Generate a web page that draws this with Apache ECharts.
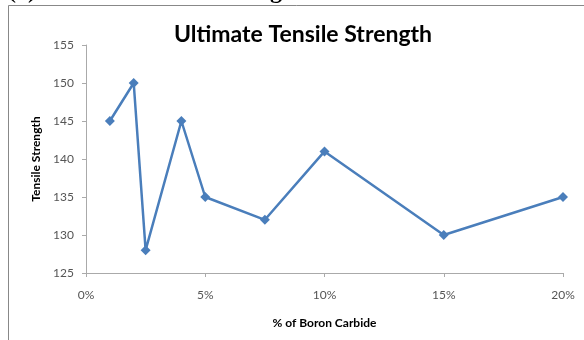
<!DOCTYPE html>
<html><head><meta charset="utf-8">
<script src="https://cdn.jsdelivr.net/npm/echarts@6/dist/echarts.min.js"></script>
<style>html,body{margin:0;padding:0;background:#fff}#c{width:584px;height:340px}</style>
</head><body><div id="c"></div>
<script>
const boronPct = [1, 2, 2.5, 4, 5, 7.5, 10, 15, 20];
const tensile = [145, 150, 128, 145, 135, 132, 141, 130, 135];
const yTicks = [125, 130, 135, 140, 145, 150, 155];
const xTicks = [0, 5, 10, 15, 20];

const chart = echarts.init(document.getElementById('c'));
chart.setOption({
  animation: false,
  backgroundColor: '#fff',
  title: {
    text: 'Ultimate Tensile Strength',
    left: 298, top: 18, textAlign: 'center',
    textStyle: {fontFamily: 'Lato', fontWeight: 'bold', fontSize: 23, color: '#000'}
  },
  graphic: [
    {type: 'text', left: 8, top: -20, style: {text: '(a) Ultimate Tensile Strength', font: 'bold 24px "Liberation Serif"', fill: '#000'}},
    {type: 'line', shape: {x1: 8.5, y1: 5.5, x2: 584, y2: 5.5}, style: {stroke: '#888', lineWidth: 1}},
    {type: 'line', shape: {x1: 8.5, y1: 5.5, x2: 8.5, y2: 340}, style: {stroke: '#888', lineWidth: 1}}
  ],
  grid: {left: 86, right: 21, top: 45, bottom: 67},
  xAxis: {
    type: 'value', min: xTicks[0], max: xTicks[xTicks.length - 1], interval: 5,
    name: '% of Boron Carbide', nameLocation: 'middle', nameGap: 44,
    nameTextStyle: {fontFamily: 'Lato', fontWeight: 'bold', fontSize: 12, color: '#000'},
    axisLine: {lineStyle: {color: '#aaa'}},
    axisTick: {show: true, length: 4, lineStyle: {color: '#aaa'}},
    splitLine: {show: false},
    axisLabel: {formatter: v => v + '%', color: '#555', fontFamily: 'Lato', fontSize: 12, margin: 16}
  },
  yAxis: {
    type: 'value', min: yTicks[0], max: yTicks[yTicks.length - 1], interval: 5,
    name: 'Tensile Strength', nameLocation: 'middle', nameGap: 44, nameRotate: 90,
    nameTextStyle: {fontFamily: 'Lato', fontWeight: 'bold', fontSize: 12, color: '#000'},
    axisLine: {show: true, lineStyle: {color: '#aaa'}},
    axisTick: {show: true, length: 4, lineStyle: {color: '#aaa'}},
    splitLine: {show: false},
    axisLabel: {color: '#555', fontFamily: 'Lato', fontSize: 12, margin: 12}
  },
  series: [{
    type: 'line',
    data: boronPct.map((x, i) => [x, tensile[i]]),
    symbol: 'diamond', symbolSize: 10,
    lineStyle: {color: '#4a7ebb', width: 2.5},
    itemStyle: {color: '#4a7ebb'}
  }]
});
</script></body></html>
